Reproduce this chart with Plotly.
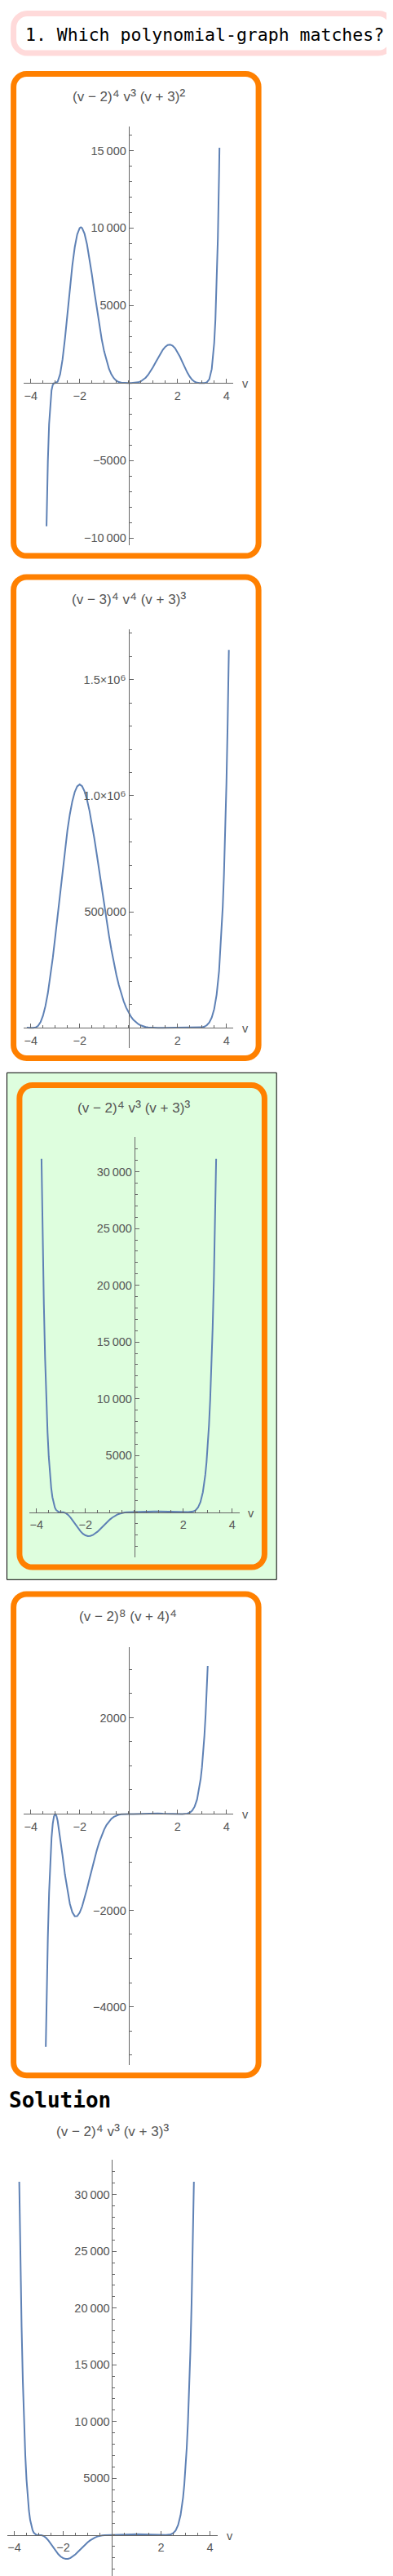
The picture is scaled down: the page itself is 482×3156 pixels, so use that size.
import plotly.graph_objects as go

W, H = 482, 3156

# ---- data: samples (v, value) of each drawn curve ----
v_a = [-3.355, -3.33, -3.3, -3.25, -3.2, -3.15, -3.1, -3.05, -3.0, -2.9, -2.8, -2.7, -2.6,
       -2.5, -2.4, -2.3, -2.2, -2.1, -2.0, -1.95, -1.9, -1.8, -1.7, -1.6, -1.5, -1.4, -1.3,
       -1.2, -1.1, -1.0, -0.9, -0.8, -0.7, -0.6, -0.5, -0.4, -0.3, -0.2, -0.1, 0.0, 0.1,
       0.2, 0.3, 0.4, 0.5, 0.6, 0.7, 0.8, 0.9, 1.0, 1.1, 1.2, 1.3, 1.4, 1.5, 1.6, 1.7, 1.8,
       1.9, 2.0, 2.1, 2.2, 2.3, 2.4, 2.5, 2.6, 2.7, 2.8, 2.9, 3.0, 3.1, 3.2, 3.3, 3.4, 3.5,
       3.55, 3.6, 3.65, 3.7, 3.716]
y_a = [-9246, -7094, -5044, -2660, -1240, -475, -128, -14.5, 0, 86, 556, 1515, 2876,
       4468, 6094, 7574, 8769, 9591, 10000, 10049, 10000, 9630, 8955, 8052, 7006, 5898, 4797,
       3763, 2838, 2048, 1406, 909, 547, 301, 147, 60, 19, 3.7, 0.2, 0, 0.1,
       3.2, 15.5, 46, 105, 201, 340, 527, 757, 1024, 1315, 1613, 1896, 2145, 2336, 2451, 2476, 2408,
       2244, 2000, 1693, 1349, 1000, 677, 406, 205, 80, 19, 1.5, 0, 2.1, 40, 240, 897, 2576,
       4084, 6259, 9317, 13536, 15180]

v_b = [-4.16, -4.1, -4.0, -3.9, -3.8, -3.7, -3.6, -3.5, -3.4, -3.3, -3.2, -3.1, -3.0, -2.9,
       -2.8, -2.7, -2.6, -2.5, -2.4, -2.3, -2.2, -2.1, -2.0, -1.9, -1.8, -1.7, -1.6, -1.5,
       -1.4, -1.3, -1.2, -1.1, -1.0, -0.9, -0.8, -0.7, -0.6, -0.5, -0.4, -0.3, -0.2, -0.1,
       0.0, 0.1, 0.2, 0.3, 0.4, 0.5, 0.6, 0.7, 0.8, 0.9, 1.0, 1.2, 1.4, 1.6, 2.0, 2.4, 2.6,
       2.8, 3.0, 3.1, 3.2, 3.3, 3.4, 3.5, 3.6, 3.7, 3.8, 3.85, 3.9, 3.95, 4.0, 4.05, 4.1]
y_b = [1358, 192, 0, 147, 2049, 9026, 24760, 52335, 93703, 149470, 218970, 300280, 390625, 486570,
       584320, 680080, 770140, 851270, 920660, 976210, 1016500, 1040600, 1048576, 1040900, 1018500,
       982940, 935980, 879640, 816060, 747430, 675820, 603230, 531441, 461990, 396160, 334940,
       279060, 228980, 184880, 146770, 114430, 87504, 65536, 47992, 34291, 23849, 16098, 10510,
       6608, 3980, 2283, 1236, 625, 123, 14, 0.6, 0, 1.1, 32, 359, 2401, 5448, 11555, 23166,
       44255, 81093, 143290, 245220, 407900, 521030, 661510, 835120, 1048576, 1309900, 1628200]

v_c = [-3.796, -3.75, -3.7, -3.65, -3.6, -3.55, -3.5, -3.45, -3.4, -3.35, -3.3, -3.25, -3.2,
       -3.1, -3.0, -2.9, -2.8, -2.7, -2.6, -2.5, -2.4, -2.3, -2.2, -2.1, -2.0, -1.9, -1.8,
       -1.7, -1.6, -1.5, -1.4, -1.3, -1.2, -1.1, -1.0, -0.9, -0.8, -0.7, -0.6, -0.5, -0.4,
       -0.3, -0.2, -0.1, 0.0, 0.2, 0.4, 0.6, 0.8, 1.0, 1.2, 1.4, 1.6, 1.8, 2.0, 2.2, 2.4,
       2.5, 2.6, 2.7, 2.8, 2.85, 2.9, 2.95, 3.0, 3.05, 3.1, 3.15, 3.2, 3.25, 3.3, 3.344]
y_c = [31135, 24319, 18340, 13608, 9911, 7062, 4904, 3301, 2139, 1321, 766, 408, 192,
       20, 0, -14, -93, -259, -504, -801, -1119, -1427, -1696, -1908, -2048, -2112, -2101,
       -2023, -1888, -1709, -1502, -1280, -1057, -843, -648, -478, -335, -222, -137, -76, -37,
       -15, -4.1, -0.5, 0, 2.8, 16.5, 38.7, 58.3, 64, 52.4, 30.3, 10.2, 1.0, 0, 2.4, 55.7,
       162.5, 400, 875, 1754, 2419, 3286, 4405, 5832, 7637, 9900, 12716, 16194, 20462, 25664, 31135]

v_d = [-3.385, -3.35, -3.3, -3.25, -3.2, -3.15, -3.1, -3.05, -3.0, -2.95, -2.9, -2.8, -2.7,
       -2.6, -2.5, -2.4, -2.3, -2.2, -2.1, -2.0, -1.9, -1.8, -1.7, -1.6, -1.5, -1.4, -1.3,
       -1.2, -1.1, -1.0, -0.9, -0.8, -0.7, -0.6, -0.5, -0.4, -0.3, -0.2, 0.0, 0.2, 0.4, 0.6,
       0.8, 1.0, 1.2, 1.4, 1.6, 1.8, 2.0, 2.2, 2.4, 2.5, 2.6, 2.7, 2.8, 2.9, 2.95, 3.0, 3.05,
       3.1, 3.15, 3.2, 3.236]
y_d = [-4834, -3773, -2552, -1630, -958, -495, -202, -46, 0, -38.5, -141, -466, -864,
       -1259, -1602, -1865, -2038, -2121, -2120, -2048, -1920, -1751, -1556, -1348, -1140, -939, -753,
       -587, -444, -324, -227, -152, -96, -57, -30.5, -14.4, -5.5, -1.5, 0, 0.9, 4.9, 10.8,
       15.3, 16, 12.5, 6.9, 2.2, 0.2, 0, 0.5, 10.3, 29.5, 71.4, 153.5, 302.5, 557, 740, 972, 1262,
       1623, 2068, 2612, 3075]

# panel captions, exponents as (base, power) pieces
caption_a = [("(v − 2)", "⁴"), (" v", "³"), (" (v + 3)", "²")]
caption_b = [("(v − 3)", "⁴"), (" v", "⁴"), (" (v + 3)", "³")]
caption_c = [("(v − 2)", "⁴"), (" v", "³"), (" (v + 3)", "³")]
caption_d = [("(v − 2)", "⁸"), (" (v + 4)", "⁴")]

x_ticks = [-4, -2, 2, 4]
x_ticktext = ["−4", "−2", "2", "4"]

ticks_a = [-10000, -5000, 5000, 10000, 15000]
ticktext_a = ["−10\u2009000", "−5000", "5000", "10\u2009000", "15\u2009000"]
ticks_b = [500000, 1000000, 1500000]
ticktext_b = ["500\u2009000", "1.0×10|⁶", "1.5×10|⁶"]
ticks_c = [5000, 10000, 15000, 20000, 25000, 30000]
ticktext_c = ["5000", "10\u2009000", "15\u2009000", "20\u2009000", "25\u2009000", "30\u2009000"]
ticks_d = [-4000, -2000, 2000]
ticktext_d = ["−4000", "−2000", "2000"]

# ---- layout of the panels (pixel boxes of the plot areas) ----
panels = [
    dict(v=v_a, y=y_a, cap=caption_a, yt=ticks_a, ytt=ticktext_a, minor=1000,
         box=(21, 147, 278.3, 660.3), xr=(-4.29, 4.287), yr=(-10490, 16554), tpos=(149.5, 108.3)),
    dict(v=v_b, y=y_b, cap=caption_b, yt=ticks_b, ytt=ticktext_b, minor=100000,
         box=(21, 763.3, 278.3, 1276.3), xr=(-4.29, 4.287), yr=(-87900, 1715900), tpos=(149.5, 724.3)),
    dict(v=v_c, y=y_c, cap=caption_c, yt=ticks_c, ytt=ticktext_c, minor=1000,
         box=(28.3, 1385.3, 285.7, 1899.7), xr=(-4.283, 4.297), yr=(-3964, 33043), tpos=(156.2, 1347)),
    dict(v=v_d, y=y_d, cap=caption_d, yt=ticks_d, ytt=ticktext_d, minor=500,
         box=(21, 2009.7, 278.3, 2522.3), xr=(-4.29, 4.287), yr=(-5217, 3471), tpos=(148.8, 1970.7)),
    dict(v=v_c, y=y_c, cap=caption_c, yt=ticks_c, ytt=ticktext_c, minor=1000,
         box=(1, 2638.3, 259, 3152.7), xr=(-4.283, 4.317), yr=(-3957, 33050), tpos=(129.5, 2601.7)),
]

AXIS = "#666666"
LABEL = "#555555"
CURVE = "#5E81B5"
ORANGE = "#FF8000"


def px(x):
    return x / W


def py(y):
    return 1 - y / H


def big(s, size):
    return f'<span style="font-size:{size}px">{s}</span>'


def caption(pieces):
    return "".join(b + big(p, 21) for b, p in pieces)


def ticklabel(t):
    if "|" in t:
        b, p = t.split("|")
        return b + big(p, 18)
    return t


def rounded(x0, y0, x1, y1, r):
    k = 0.5523 * r
    p = lambda x, y: f"{px(x):.6f},{py(y):.6f}"
    return (f"M {p(x0 + r, y0)} L {p(x1 - r, y0)} "
            f"C {p(x1 - r + k, y0)} {p(x1, y0 + r - k)} {p(x1, y0 + r)} "
            f"L {p(x1, y1 - r)} "
            f"C {p(x1, y1 - r + k)} {p(x1 - r + k, y1)} {p(x1 - r, y1)} "
            f"L {p(x0 + r, y1)} "
            f"C {p(x0 + r - k, y1)} {p(x0, y1 - r + k)} {p(x0, y1 - r)} "
            f"L {p(x0, y0 + r)} "
            f"C {p(x0, y0 + r - k)} {p(x0 + r - k, y0)} {p(x0 + r, y0)} Z")


fig = go.Figure()
layout = {}
annotations = []

for i, pn in enumerate(panels, start=1):
    left, top, right, bottom = pn["box"]
    x0, x1 = pn["xr"]
    y0, y1 = pn["yr"]
    zero_y = top + (y1 - 0) / (y1 - y0) * (bottom - top)
    zero_x = left + (0 - x0) / (x1 - x0) * (right - left)
    sfx = "" if i == 1 else str(i)

    fig.add_trace(go.Scatter(
        x=pn["v"], y=pn["y"], mode="lines",
        line=dict(color=CURVE, width=2),
        xaxis="x" + sfx, yaxis="y" + sfx,
        hoverinfo="skip", showlegend=False,
    ))

    layout["xaxis" + sfx] = dict(
        domain=[px(left), px(right)], range=[x0, x1],
        anchor="free", position=py(zero_y),
        showline=True, linecolor=AXIS, linewidth=1,
        showgrid=False, zeroline=False,
        ticks="inside", ticklen=5, tickwidth=1, tickcolor=AXIS,
        tickmode="array", tickvals=x_ticks, ticktext=x_ticktext,
        tickfont=dict(family="Liberation Sans", size=14.5, color=LABEL),
        ticklabelstandoff=2,
        minor=dict(tickmode="linear", tick0=0, dtick=0.5, ticks="inside",
                   ticklen=3, tickwidth=1, tickcolor=AXIS, showgrid=False),
        fixedrange=True,
    )
    layout["yaxis" + sfx] = dict(
        domain=[py(bottom), py(top)], range=[y0, y1],
        anchor="free", position=px(zero_x),
        showline=True, linecolor=AXIS, linewidth=1,
        showgrid=False, zeroline=False,
        ticks="inside", ticklen=5, tickwidth=1, tickcolor=AXIS,
        tickmode="array", tickvals=pn["yt"], ticktext=[ticklabel(t) for t in pn["ytt"]],
        tickfont=dict(family="Liberation Sans", size=14.5, color=LABEL),
        minor=dict(tickmode="linear", tick0=0, dtick=pn["minor"], ticks="inside",
                   ticklen=3, tickwidth=1, tickcolor=AXIS, showgrid=False),
        fixedrange=True,
    )

    tx, ty = pn["tpos"]
    annotations.append(dict(
        x=px(tx), y=py(ty), xref="paper", yref="paper", text=caption(pn["cap"]),
        showarrow=False, xanchor="center", yanchor="middle",
        font=dict(family="Liberation Sans", size=17, color=LABEL),
    ))
    annotations.append(dict(
        x=px(right + 14.5), y=py(zero_y + 1), xref="paper", yref="paper", text="v",
        showarrow=False, xanchor="center", yanchor="middle",
        font=dict(family="Liberation Sans", size=14.5, color=LABEL),
    ))

annotations.append(dict(
    x=px(21), y=py(34.5), xref="paper", yref="paper",
    text="1. Which polynomial-graph matches?", showarrow=False,
    xanchor="left", yanchor="middle",
    font=dict(family="DejaVu Sans Mono", size=21.5, color="black"),
))
annotations.append(dict(
    x=px(1), y=py(2564.5), xref="paper", yref="paper",
    text="<b>Solution</b>", showarrow=False,
    xanchor="left", yanchor="middle",
    font=dict(family="DejaVu Sans Mono", size=26, color="black"),
))

shapes = [
    dict(type="path", path=rounded(8.6, 8.6, 473.1, 57.1, 17), xref="paper", yref="paper",
         line=dict(color="#FFDADA", width=7), fillcolor="white", layer="below"),
    dict(type="path", path=rounded(8.6, 82.6, 309.1, 673.1, 16), xref="paper", yref="paper",
         line=dict(color=ORANGE, width=7), fillcolor="white", layer="below"),
    dict(type="path", path=rounded(8.6, 698.9, 309.1, 1288.4, 16), xref="paper", yref="paper",
         line=dict(color=ORANGE, width=7), fillcolor="white", layer="below"),
    dict(type="rect", x0=px(0.5), x1=px(331.2), y0=py(1927.3), y1=py(1306.3),
         xref="paper", yref="paper", line=dict(color="black", width=1),
         fillcolor="#DEFEDE", layer="below"),
    dict(type="path", path=rounded(15.9, 1321.6, 316.4, 1912.1, 16), xref="paper", yref="paper",
         line=dict(color=ORANGE, width=7), fillcolor="#DEFEDE", layer="below"),
    dict(type="path", path=rounded(8.6, 1944.9, 309.1, 2534.7, 16), xref="paper", yref="paper",
         line=dict(color=ORANGE, width=7), fillcolor="white", layer="below"),
]

fig.update_layout(
    width=W, height=H, autosize=False,
    margin=dict(l=0, r=0, t=0, b=0, pad=0),
    paper_bgcolor="white", plot_bgcolor="rgba(0,0,0,0)",
    showlegend=False, hovermode=False,
    annotations=annotations, shapes=shapes,
    **layout,
)

fig.write_html("out.html")
